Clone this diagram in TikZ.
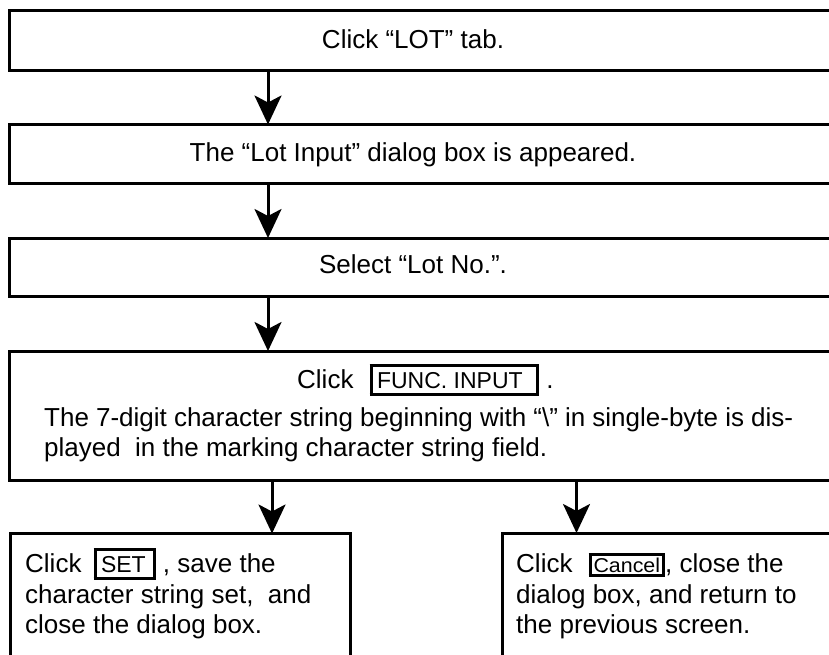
\documentclass[tikz,border=0pt]{standalone}
\usepackage{fontspec}
\setmainfont{Liberation Sans}
\usepackage{graphicx}
\usetikzlibrary{arrows.meta}
\newcommand\btnbox[2]{{\setlength\fboxrule{3pt}\setlength\fboxsep{4.5pt}\fbox{\fontsize{23}{23}\selectfont\vphantom{S}#1\hspace{#2}}}}
\newcommand\cancelbox{{\setlength\fboxrule{3pt}\setlength\fboxsep{2pt}\fbox{\vphantom{\fontsize{20}{20}\selectfont l}\scalebox{1.07}[1]{\fontsize{20}{20}\selectfont Cancel}}}}
\tikzset{
  flowbox/.style={draw, line width=3pt, outer sep=0pt, inner sep=0pt, anchor=north west},
  txtc/.style={font=\fontsize{26}{30}\selectfont, inner sep=0pt, anchor=base},
  txtl/.style={font=\fontsize{26}{30}\selectfont, inner sep=0pt, anchor=base west},
  arr/.style={line width=3pt, -{Stealth[length=29pt, width=27pt, inset=7pt]}}
}
\begin{document}
\begin{tikzpicture}[x=1pt,y=-1pt]
\useasboundingbox (0,0) rectangle (829,655);
\clip (0,0) rectangle (829,655);
\node[flowbox, minimum width=829pt, minimum height=59.7pt] (b1) at (9.5,10.8) {};
\node[flowbox, minimum width=829pt, minimum height=59pt] (b2) at (9.5,124.5) {};
\node[flowbox, minimum width=829pt, minimum height=58.5pt] (b3) at (9.5,238) {};
\node[flowbox, minimum width=829pt, minimum height=129pt] (b4) at (9.5,351) {};
\node[flowbox, minimum width=340.5pt, minimum height=150pt] (b5) at (10,533.5) {};
\node[flowbox, minimum width=340pt, minimum height=150pt] (b6) at (502,533) {};

\node[txtc] (t1) at (413,49) {Click “LOT” tab.};
\node[txtc] (t2) at (413,161) {The “Lot Input” dialog box is appeared.};
\node[txtc] (t3) at (413,273) {Select “Lot No.”.};
\node[txtl] (t4a) at (297,388) {Click\hspace{16pt}\btnbox{FUNC. INPUT}{9pt} .};
\node[txtl] (t4b) at (44,426) {\makebox[749pt][s]{The 7-digit character string beginning with “\textbackslash” in single-byte is dis-}};
\node[txtl] (t4c) at (44,456) {played\ \ in the marking character string field.};

\node[txtl] (t5a) at (25,572) {Click\hspace{12pt}\btnbox{SET}{2.5pt} , save the};
\node[txtl] (t5b) at (25,603) {character string set,\ \ and};
\node[txtl] (t5c) at (25,633) {close the dialog box.};

\node[txtl] (t6a) at (516,572) {Click\hspace{16pt}\cancelbox, close the};
\node[txtl] (t6b) at (516,603) {dialog box, and return to};
\node[txtl] (t6c) at (516,633) {the previous screen.};

\coordinate (ax) at (268,0);
\coordinate (axl) at (272,0);
\coordinate (axr) at (576.5,0);
\draw[arr] (b1.south -| ax) -- (b2.north -| ax);
\draw[arr] (b2.south -| ax) -- (b3.north -| ax);
\draw[arr] (b3.south -| ax) -- (b4.north -| ax);
\draw[arr] (b4.south -| axl) -- (b5.north -| axl);
\draw[arr] (b4.south -| axr) -- (b6.north -| axr);
\end{tikzpicture}
\end{document}
